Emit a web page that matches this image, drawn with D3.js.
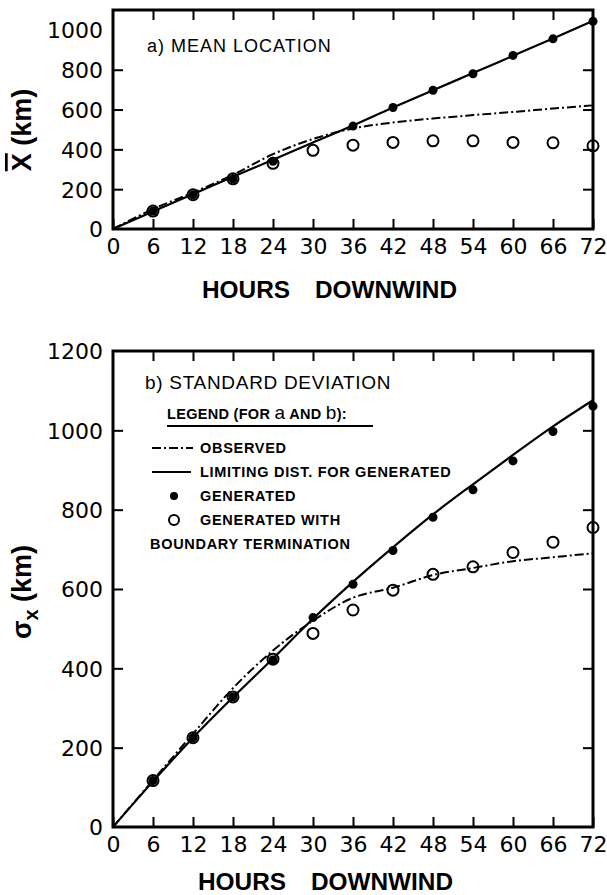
<!DOCTYPE html>
<html>
<head>
<meta charset="utf-8">
<script src="https://cdn.jsdelivr.net/npm/d3@7"></script>
<style>
  body { margin: 0; background: #fff; }
  text { font-family: "Liberation Sans", Arial, sans-serif; fill: #000; }
</style>
</head>
<body>
<script>
// hours downwind, every 6 h
const hours = [0, 6, 12, 18, 24, 30, 36, 42, 48, 54, 60, 66, 72]

// a) mean location (km)
const meanLimiting = [0, 88, 175, 262, 348, 435, 520, 610, 697, 783, 870, 957, 1045]
const meanObserved = [0, 100, 183, 272, 376, 452, 505, 535, 555, 572, 588, 605, 621]
const meanGenerated = [null, 90, 172, 252, 340, null, 517, 610, 697, 780, 872, 955, 1043]
const meanBoundary = [null, 90, 172, 252, 330, 395, 421, 435, 443, 443, 435, 433, 418]

// b) standard deviation (km)
const sdLimiting = [0, 115, 225, 327, 425, 525, 618, 705, 788, 864, 938, 1010, 1076]
const sdObserved = [0, 118, 235, 350, 445, 520, 578, 603, 635, 653, 670, 680, 690]
const sdGenerated = [null, 117, 225, 328, 421, 528, 612, 697, 781, 850, 923, 997, 1061]
const sdBoundary = [null, 117, 225, 328, 423, 488, 547, 597, 637, 656, 692, 718, 755]

const meanTicks = [0, 200, 400, 600, 800, 1000]
const sdTicks = [0, 200, 400, 600, 800, 1000, 1200]

const width = 607, height = 895

const svg = d3.select('body')
    .append('svg')
    .attr('width', width)
    .attr('height', height)

const x = d3.scaleLinear().domain([0, 72]).range([113, 593])

function panel(y, yTicks, limiting, observed, generated, boundary, titleY, titleX) {
    const g = svg.append('g')
    const [y0, y1] = y.range()

    // frame
    g.append('rect')
        .attr('x', x(0)).attr('y', y1)
        .attr('width', x(72) - x(0)).attr('height', y0 - y1)
        .attr('fill', 'none').attr('stroke', '#000').attr('stroke-width', 3)

    const bottom = g.append('g')
        .attr('transform', `translate(0, ${y0})`)
        .call(d3.axisBottom(x).tickValues(hours).tickSize(-10).tickPadding(9))
    const top = g.append('g')
        .attr('transform', `translate(0, ${y1})`)
        .call(d3.axisTop(x).tickValues(hours.slice(1, -1)).tickSize(-10).tickFormat(''))
    const right = g.append('g')
        .attr('transform', `translate(${x(72)}, 0)`)
        .call(d3.axisRight(y).tickValues(yTicks.slice(1, -1)).tickSize(-10).tickFormat(''))
    const left = g.append('g')
        .attr('transform', `translate(${x(0)}, 0)`)
        .call(d3.axisLeft(y).tickValues(yTicks).tickSize(-10).tickPadding(10).tickFormat(d3.format('d')))

    ;[bottom, top, right, left].forEach((a) => {
        a.select('.domain').remove()
        a.selectAll('line').attr('stroke-width', 2)
        a.selectAll('text')
            .style('font-family', '"DejaVu Sans", sans-serif')
            .style('font-size', '22px')
    })
    left.selectAll('line').filter((d) => d === 0 || d === yTicks[yTicks.length - 1]).remove()
    left.selectAll('text').attr('dy', '0.36em')

    const line = d3.line()
        .x((d, i) => x(hours[i]))
        .y((d) => y(d))
        .curve(d3.curveMonotoneX)

    g.append('path')
        .attr('d', line(observed))
        .attr('fill', 'none').attr('stroke', '#000').attr('stroke-width', 2)
        .attr('stroke-dasharray', '9,3,2,3')
    g.append('path')
        .attr('d', line(limiting))
        .attr('fill', 'none').attr('stroke', '#000').attr('stroke-width', 2.2)

    const pts = (vals) => vals.map((v, i) => ({ h: hours[i], v })).filter((d) => d.v != null)

    g.selectAll('.open').data(pts(boundary)).enter()
        .append('circle')
        .attr('cx', (d) => x(d.h)).attr('cy', (d) => y(d.v))
        .attr('r', 5.5)
        .attr('fill', 'none').attr('stroke', '#000').attr('stroke-width', 2)
    g.selectAll('.filled').data(pts(generated)).enter()
        .append('circle')
        .attr('cx', (d) => x(d.h)).attr('cy', (d) => y(d.v))
        .attr('r', 4.5)
        .attr('fill', '#000')

    const t = g.append('text')
        .attr('y', titleY)
        .style('font-size', '24px').style('font-weight', 'bold')
    t.append('tspan').attr('x', titleX).attr('textLength', 88)
        .attr('lengthAdjust', 'spacingAndGlyphs').text('HOURS')
    t.append('tspan').attr('x', titleX + 113).attr('textLength', 142)
        .attr('lengthAdjust', 'spacingAndGlyphs').text('DOWNWIND')
    return g
}

// a) mean location
const yMean = d3.scaleLinear().domain([0, 1100]).range([229, 10])
panel(yMean, meanTicks, meanLimiting, meanObserved, meanGenerated, meanBoundary, 298, 202)

svg.append('text')
    .attr('x', 147).attr('y', 52)
    .style('font-size', '18px').style('letter-spacing', '1px')
    .text('a) MEAN LOCATION')

const yl1 = svg.append('text')
    .attr('transform', 'translate(31, 130) rotate(-90)')
    .attr('text-anchor', 'middle')
    .style('font-size', '27px').style('font-weight', 'bold')
yl1.append('tspan').style('text-decoration', 'overline').text('X')
yl1.append('tspan').text(' (km)')

// b) standard deviation
const ySd = d3.scaleLinear().domain([0, 1200]).range([827, 351])
panel(ySd, sdTicks, sdLimiting, sdObserved, sdGenerated, sdBoundary, 890, 198)

svg.append('text')
    .attr('x', 145).attr('y', 389)
    .style('font-size', '19px').style('letter-spacing', '0.7px')
    .text('b) STANDARD DEVIATION')

const yl2 = svg.append('text')
    .attr('transform', 'translate(31, 592) rotate(-90)')
    .attr('text-anchor', 'middle')
    .style('font-size', '27px').style('font-weight', 'bold')
yl2.append('tspan').text('σ')
yl2.append('tspan').attr('dy', 7).style('font-size', '20px').text('x')
yl2.append('tspan').attr('dy', -7).text(' (km)')

// legend
const lg = svg.append('g').style('font-size', '14.5px').style('font-weight', 'bold')
    .style('letter-spacing', '0.7px')
const lt = lg.append('text').attr('x', 167).attr('y', 419).style('letter-spacing', '0.3px')
lt.append('tspan').text('LEGEND (FOR ')
lt.append('tspan').style('font-size', '19px').style('font-weight', 'normal').text('a')
lt.append('tspan').text(' AND ')
lt.append('tspan').style('font-size', '19px').style('font-weight', 'normal').text('b')
lt.append('tspan').text('):')
lg.append('line').attr('x1', 167).attr('x2', 373).attr('y1', 426).attr('y2', 426)
    .attr('stroke', '#000').attr('stroke-width', 2)

lg.append('line').attr('x1', 152).attr('x2', 193).attr('y1', 448).attr('y2', 448)
    .attr('stroke', '#000').attr('stroke-width', 2).attr('stroke-dasharray', '9,3,2,3')
lg.append('text').attr('x', 200).attr('y', 453).text('OBSERVED')

lg.append('line').attr('x1', 152).attr('x2', 191).attr('y1', 472).attr('y2', 472)
    .attr('stroke', '#000').attr('stroke-width', 2)
lg.append('text').attr('x', 200).attr('y', 477).text('LIMITING DIST. FOR GENERATED')

lg.append('circle').attr('cx', 174).attr('cy', 496).attr('r', 4).attr('fill', '#000')
lg.append('text').attr('x', 200).attr('y', 501).text('GENERATED')

lg.append('circle').attr('cx', 174).attr('cy', 520).attr('r', 5)
    .attr('fill', 'none').attr('stroke', '#000').attr('stroke-width', 2)
lg.append('text').attr('x', 200).attr('y', 525).text('GENERATED WITH')
lg.append('text').attr('x', 150).attr('y', 549).text('BOUNDARY TERMINATION')
</script>
</body>
</html>
